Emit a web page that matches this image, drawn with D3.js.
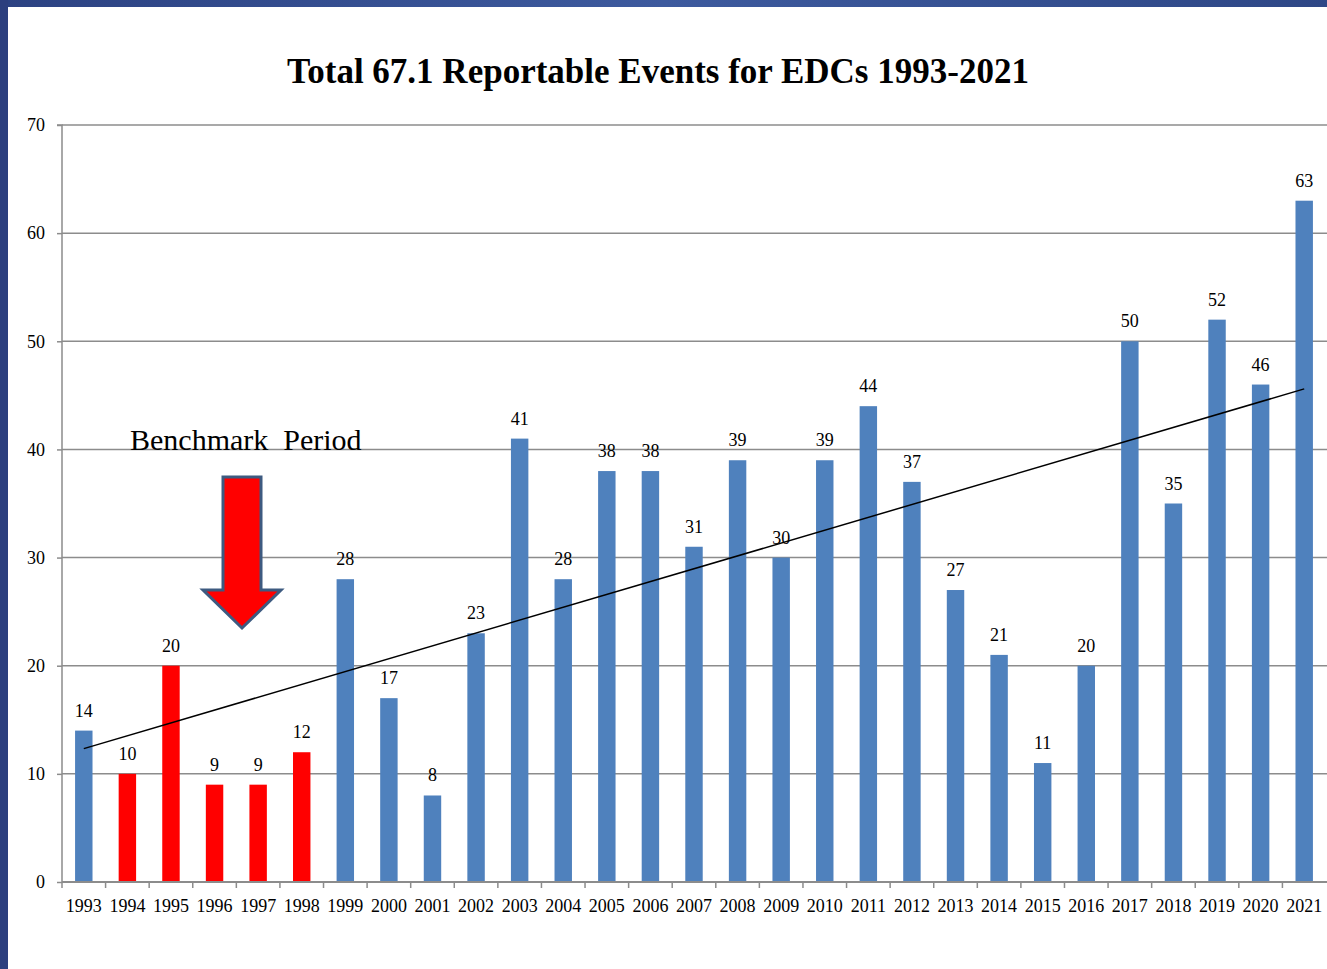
<!DOCTYPE html>
<html><head><meta charset="utf-8">
<script src="https://cdn.jsdelivr.net/npm/d3@7"></script>
<style>body{margin:0;background:#fff;}svg{display:block;} text{font-family:"Liberation Serif","Times New Roman",serif;}</style>
</head><body>
<script>
const years = ["1993","1994","1995","1996","1997","1998","1999","2000","2001","2002","2003","2004","2005","2006","2007","2008","2009","2010","2011","2012","2013","2014","2015","2016","2017","2018","2019","2020","2021"];
const events = [14,10,20,9,9,12,28,17,8,23,41,28,38,38,31,39,30,39,44,37,27,21,11,20,50,35,52,46,63];
const benchmarkYears = ["1994","1995","1996","1997","1998"];
const yTicks = [0,10,20,30,40,50,60,70];
const title = "Total 67.1 Reportable Events for EDCs 1993-2021";
const annotation = "Benchmark  Period";

const W = 1327, H = 969;
const svg = d3.select("body").append("svg").attr("width", W).attr("height", H);
const defs = svg.append("defs");
const g1 = defs.append("linearGradient").attr("id","topg").attr("x1","0").attr("x2","1");
g1.append("stop").attr("offset","0").attr("stop-color","#2c4282");
g1.append("stop").attr("offset","0.5").attr("stop-color","#3d5a9e");
g1.append("stop").attr("offset","1").attr("stop-color","#2e4786");
svg.append("rect").attr("width",W).attr("height",H).attr("fill","#fff");
svg.append("rect").attr("x",0).attr("y",0).attr("width",W).attr("height",7).attr("fill","url(#topg)");
svg.append("rect").attr("x",0).attr("y",0).attr("width",8).attr("height",H).attr("fill","#2c3f7e");

const xb = d3.scaleBand().domain(years).range([62, 1326]);
const y = d3.scaleLinear().domain([0,70]).range([882,125]);

// gridlines
svg.append("g").selectAll("line").data(yTicks.filter(d=>d>0)).join("line")
  .attr("x1",62).attr("x2",1327).attr("y1",d=>y(d)).attr("y2",d=>y(d))
  .attr("stroke","#8c8c8c").attr("stroke-width",1.5);

// bars
const bw = xb.bandwidth()/2.5;
svg.append("g").selectAll("rect").data(years).join("rect")
  .attr("x",(d)=>xb(d)+xb.bandwidth()/2 - bw/2).attr("width",bw)
  .attr("y",(d,i)=>y(events[i])).attr("height",(d,i)=>y(0)-y(events[i]))
  .attr("fill",d=>benchmarkYears.includes(d)?"#ff0000":"#4f81bd");

// value labels
svg.append("g").selectAll("text").data(years).join("text")
  .attr("x",d=>xb(d)+xb.bandwidth()/2).attr("y",(d,i)=>y(events[i])-14)
  .attr("text-anchor","middle").attr("font-size",18)
  .text((d,i)=>events[i]);

// trendline (least squares)
const n = events.length;
const xs = d3.range(1,n+1);
const mx = d3.mean(xs), my = d3.mean(events);
const slope = d3.sum(xs.map((xv,i)=>(xv-mx)*(events[i]-my)))/d3.sum(xs.map(xv=>(xv-mx)**2));
const icpt = my - slope*mx;
const cx = i => xb(years[i])+xb.bandwidth()/2;
svg.append("line").attr("x1",cx(0)).attr("y1",y(icpt+slope*1))
  .attr("x2",cx(n-1)).attr("y2",y(icpt+slope*n))
  .attr("stroke","#000").attr("stroke-width",1.5);

// axes
const yAxis = svg.append("g").attr("transform","translate(62,0)")
  .call(d3.axisLeft(y).tickValues(yTicks).tickSize(5).tickPadding(12));
yAxis.select(".domain").attr("stroke","#8c8c8c").attr("stroke-width",1.5).attr("d","M-5,125H0V882");
yAxis.selectAll(".tick line").attr("stroke","#8c8c8c").attr("stroke-width",1.5);
yAxis.selectAll("text").attr("font-size",18).attr("fill","#000");

const xAxis = svg.append("g").attr("transform","translate(0,882)")
  .call(d3.axisBottom(xb).tickSize(0).tickPadding(17));
xAxis.select(".domain").attr("stroke","#8c8c8c").attr("stroke-width",2).attr("d","M62,0H1327");
xAxis.selectAll("text").attr("font-size",18).attr("fill","#000");
svg.selectAll("g").attr("font-family",null);
// category boundary ticks
svg.append("g").selectAll("line").data(years).join("line")
  .attr("x1",d=>xb(d)).attr("x2",d=>xb(d)).attr("y1",882).attr("y2",888)
  .attr("stroke","#8c8c8c").attr("stroke-width",1.5);

// title
svg.append("text").attr("x",658).attr("y",83).attr("text-anchor","middle")
  .attr("font-weight","bold").attr("font-size",35).text(title);

// annotation
svg.append("text").attr("x",130).attr("y",450).attr("font-size",30)
  .style("white-space","pre").text(annotation);

// arrow
const ax = 242;
svg.append("path").attr("d",`M${ax-19},477 H${ax+19} V590 H${ax+39} L${ax},628 L${ax-39},590 H${ax-19} Z`)
  .attr("fill","#ff0000").attr("stroke","#3d5a80").attr("stroke-width",3).attr("stroke-linejoin","miter");
</script>
</body></html>
